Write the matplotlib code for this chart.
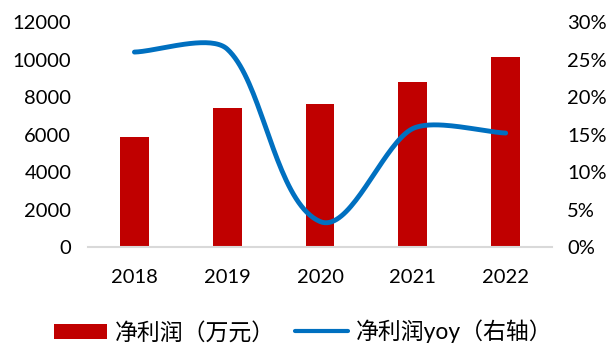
import numpy as np
import matplotlib
matplotlib.use("Agg")
import matplotlib.pyplot as plt
from matplotlib.ticker import PercentFormatter

plt.rcParams['font.family'] = ['Lato', 'Noto Sans CJK SC', 'DejaVu Sans']

years = ['2018', '2019', '2020', '2021', '2022']
profit = [5870, 7420, 7630, 8800, 10150]          # 净利润（万元）
profit_yoy = [26.0, 26.4, 3.4, 15.8, 15.2]        # 净利润yoy（%）

# pixel scale of the axes, used so the smoothing looks like excel's
PX_X = 93.0    # px per category
PX_Y = 7.5     # px per percent


def smooth(xs, ys, k=0.25, n=40):
    # excel-like smoothed line: bezier, control arms scaled by segment length
    P = np.column_stack([np.asarray(xs, float) * PX_X, np.asarray(ys, float) * PX_Y])
    m = len(P)
    tang = []
    for i in range(m):
        a = P[max(i - 1, 0)]
        b = P[min(i + 1, m - 1)]
        d = b - a
        tang.append(d / np.linalg.norm(d))
    t = np.linspace(0, 1, n)[:, None]
    out = []
    for i in range(m - 1):
        p0, p3 = P[i], P[i + 1]
        L = np.linalg.norm(p3 - p0)
        c1 = p0 + tang[i] * L * k
        c2 = p3 - tang[i + 1] * L * k
        b = (1 - t) ** 3 * p0 + 3 * (1 - t) ** 2 * t * c1 + 3 * (1 - t) * t ** 2 * c2 + t ** 3 * p3
        out.append(b)
    out = np.vstack(out)
    return out[:, 0] / PX_X, out[:, 1] / PX_Y


fig = plt.figure(figsize=(6.13, 3.45), dpi=100)
ax = fig.add_axes([0.1436, 0.284, 0.757, 0.652])
x = np.arange(len(years))
bars = ax.bar(x, profit, width=0.31, color='#C00000', label='净利润（万元）', zorder=2)
ax.set_ylim(0, 12000)
ax.set_yticks(range(0, 12001, 2000))
ax.set_xlim(-0.5, len(years) - 0.5)
ax.set_xticks(x)
ax.set_xticklabels(years)
for s in ['top', 'right', 'left']:
    ax.spines[s].set_visible(False)
ax.spines['bottom'].set_color('#D9D9D9')
ax.spines['bottom'].set_linewidth(1.5)
ax.tick_params(length=0, labelsize=14.5, colors='#000000')
ax.tick_params(axis='y', pad=12)
ax.tick_params(axis='x', pad=16)

ax2 = ax.twinx()
sx, sy = smooth(x, profit_yoy)
line, = ax2.plot(sx, sy, color='#0070C0', lw=3.5, solid_capstyle='round',
                 label='净利润yoy（右轴）', zorder=3)
ax2.set_ylim(0, 30)
ax2.set_yticks(range(0, 31, 5))
ax2.yaxis.set_major_formatter(PercentFormatter(decimals=0))
for s in ['top', 'right', 'left', 'bottom']:
    ax2.spines[s].set_visible(False)
ax2.tick_params(length=0, labelsize=14.5, pad=11)

leg = fig.legend(handles=[bars, line], loc='center', ncol=2, frameon=False,
                 bbox_to_anchor=(0.495, 1 - 331.5 / 345), fontsize=16.5,
                 handlelength=2.3, handleheight=0.66, columnspacing=0.85,
                 handletextpad=0.37, borderpad=0, borderaxespad=0)
for h in leg.legend_handles:
    if h.get_label() == line.get_label():
        h.set_linewidth(3)

fig.savefig('out.png', dpi=100)
